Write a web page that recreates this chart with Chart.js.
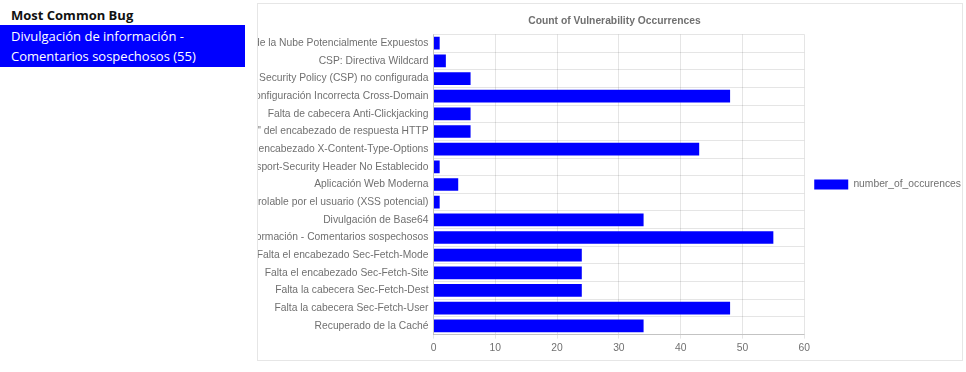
<!DOCTYPE html>
<html>
<head>
<meta charset="utf-8">
<script src="https://cdn.jsdelivr.net/npm/chart.js@4/dist/chart.umd.min.js"></script>
<style>
  html, body { margin: 0; padding: 0; background: #fff; }
  body { width: 966px; height: 372px; position: relative; overflow: hidden; font-family: "Open Sans", "Noto Sans", sans-serif; }
  #side { position: absolute; left: 0; top: 0; width: 245px; }
  #side h4 { margin: 0; padding: 6px 0 0 11px; height: 19px; font-size: 13px; font-weight: 700; color: #111; line-height: 19px; }
  #bug { background: #0000ff; color: #fff; font-size: 13px; line-height: 20px; padding: 1px 0 1px 11px; }
  #card { position: absolute; left: 257px; top: 3px; width: 704px; height: 356px; border: 1px solid #e6e6e6; }
  #wrap { position: absolute; left: 0; top: 0; width: 704px; height: 356px; }
</style>
</head>
<body>
<div id="side">
  <h4>Most Common Bug</h4>
  <div id="bug"></div>
</div>
<div id="card"><div id="wrap"><canvas id="chart"></canvas></div></div>
<script>
const categories = [
  "Metadatos de la Nube Potencialmente Expuestos",
  "CSP: Directiva Wildcard",
  "Content Security Policy (CSP) no configurada",
  "Configuración Incorrecta Cross-Domain",
  "Falta de cabecera Anti-Clickjacking",
  "El servidor filtra información de versión a través del campo \"Server\" del encabezado de respuesta HTTP",
  "Falta encabezado X-Content-Type-Options",
  "Strict-Transport-Security Header No Establecido",
  "Aplicación Web Moderna",
  "Elemento HTML controlable por el usuario (XSS potencial)",
  "Divulgación de Base64",
  "Divulgación de información - Comentarios sospechosos",
  "Falta el encabezado Sec-Fetch-Mode",
  "Falta el encabezado Sec-Fetch-Site",
  "Falta la cabecera Sec-Fetch-Dest",
  "Falta la cabecera Sec-Fetch-User",
  "Recuperado de la Caché"
];
const occurrences = [1, 2, 6, 48, 6, 6, 43, 1, 4, 1, 34, 55, 24, 24, 24, 48, 34];
const seriesName = "number_of_occurences";
const chartTitle = "Count of Vulnerability Occurrences";
const xTicks = [0, 10, 20, 30, 40, 50, 60];

// Most frequent finding shown in the side panel
let topIdx = 0;
occurrences.forEach((v, i) => { if (v > occurrences[topIdx]) topIdx = i; });
const bugName = categories[topIdx];
const cut = bugName.indexOf(" - ");
document.getElementById("bug").innerHTML =
  bugName.slice(0, cut + 2) + "<br>" + bugName.slice(cut + 3) + " (" + occurrences[topIdx] + ")";

const FONT = "'Liberation Sans', Arial, sans-serif";
const FS = 10.3;
const GREY = "#707070";

new Chart(document.getElementById("chart"), {
  type: "bar",
  data: {
    labels: categories,
    datasets: [{
      label: seriesName,
      data: occurrences,
      backgroundColor: "#0000ff",
      borderColor: "#0000ff",
      borderWidth: 0
    }]
  },
  options: {
    indexAxis: "y",
    responsive: true,
    maintainAspectRatio: false,
    animation: false,
    layout: { padding: { left: 0, right: -9, top: 1, bottom: 3 } },
    plugins: {
      title: {
        display: true,
        text: chartTitle,
        color: GREY,
        font: { family: FONT, size: FS, weight: "bold" },
        padding: { top: 10, bottom: 7 }
      },
      legend: {
        position: "right",
        // empty spacer title nudges the legend item down to the plot's middle
        title: { display: true, text: " ", padding: 0, color: "rgba(0,0,0,0)", font: { family: FONT, size: 6 } },
        labels: {
          color: GREY,
          font: { family: FONT, size: FS },
          boxWidth: 34,
          boxHeight: 10,
          padding: 10
        }
      },
      tooltip: { enabled: false }
    },
    scales: {
      x: {
        min: 0,
        max: 60,
        afterBuildTicks: (s) => { s.ticks = xTicks.map(v => ({ value: v })); },
        ticks: { color: GREY, font: { family: FONT, size: FS }, padding: 3 },
        grid: { color: "rgba(0,0,0,0.1)", tickLength: 4 },
        border: { color: "rgba(0,0,0,0.15)" }
      },
      y: {
        afterFit: (s) => { s.width = 175.5; },
        ticks: { color: GREY, font: { family: FONT, size: FS }, padding: 5, autoSkip: false },
        grid: { color: "rgba(0,0,0,0.1)", drawTicks: false },
        border: { color: "rgba(0,0,0,0.15)" }
      }
    }
  }
});
</script>
</body>
</html>
